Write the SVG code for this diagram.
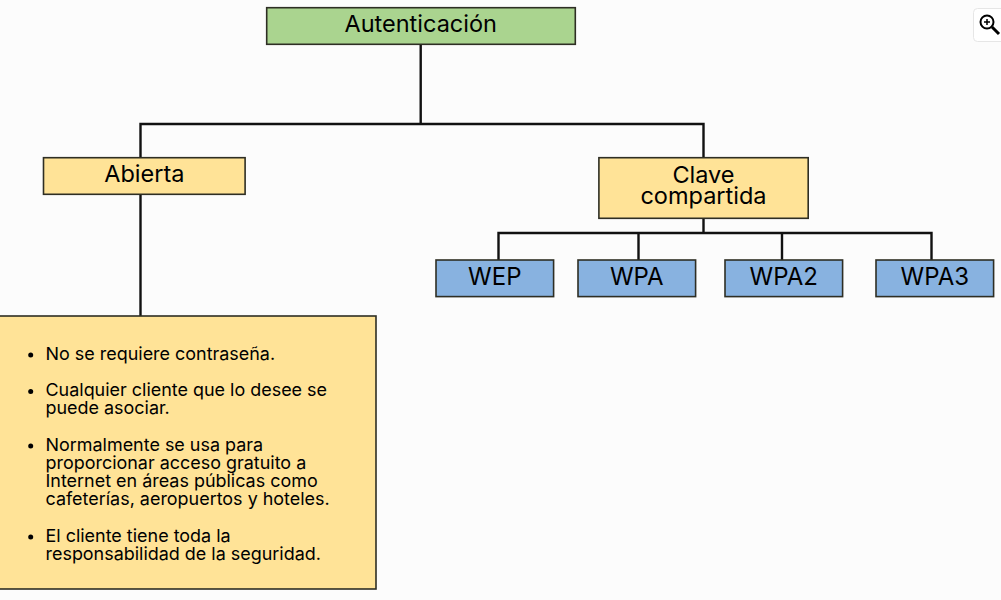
<svg xmlns="http://www.w3.org/2000/svg" width="1001" height="600" viewBox="0 0 1001 600">
<style>
text{font-family:Inter,"Noto Sans","Liberation Sans",sans-serif;fill:#000}
.t{font-size:23.500px;text-anchor:middle}
.m{font-size:24px;text-anchor:middle}
.l{font-size:17.950px}
.n{stroke:#2e2e24;stroke-width:1.600}
.g{fill:#aad48f}.y{fill:#ffe397}.b{fill:#88b2e0}
#connectors path{fill:none;stroke:#111;stroke-width:2.400}
</style>
<rect width="1001" height="600" fill="#fcfcfc"/>
<g id="connectors">
<path d="M420.700 44V124M140.500 157.700V124H703.500V157.700"/>
<path d="M140.500 194V316"/>
<path d="M703.500 218V233M498.500 260V233H931.500V260M638.500 233V260M782 233V260"/>
</g>
<g id="autenticacion"><rect class="n g" x="266.700" y="7.700" width="308.600" height="36.600"/><text class="t" x="420.700" y="32">Autenticación</text></g>
<g id="abierta"><rect class="n y" x="43.500" y="157.700" width="201.600" height="36.600"/><text class="t" x="144.300" y="182">Abierta</text></g>
<g id="clave"><rect class="n y" x="598.900" y="157.700" width="209.300" height="60.600"/><text class="t" x="703.500" y="183">Clave</text><text class="t" x="703.500" y="204">compartida</text></g>
<g id="wep"><rect class="n b" x="436" y="260" width="117.600" height="36.600"/><text class="m" x="494.800" y="285">WEP</text></g>
<g id="wpa"><rect class="n b" x="578" y="260" width="117.600" height="36.600"/><text class="m" x="636.800" y="285">WPA</text></g>
<g id="wpa2"><rect class="n b" x="725" y="260" width="117.600" height="36.600"/><text class="m" x="783.800" y="285">WPA2</text></g>
<g id="wpa3"><rect class="n b" x="876" y="260" width="117.600" height="36.600"/><text class="m" x="934.800" y="285">WPA3</text></g>
<g id="detalle">
<rect class="n y" x="-4" y="316" width="380" height="273"/>
<g fill="#000"><circle cx="30.700" cy="355" r="2.500"/><circle cx="30.700" cy="391.500" r="2.500"/><circle cx="30.700" cy="446" r="2.500"/><circle cx="30.700" cy="537" r="2.500"/></g>
<text class="l" x="45.500" y="360">No se requiere contraseña.</text>
<text class="l" x="45.500" y="396">Cualquier cliente que lo desee se</text>
<text class="l" x="45.500" y="414">puede asociar.</text>
<text class="l" x="45.500" y="451">Normalmente se usa para</text>
<text class="l" x="45.500" y="469">proporcionar acceso gratuito a</text>
<text class="l" x="45.500" y="487">Internet en áreas públicas como</text>
<text class="l" x="45.500" y="505">cafeterías, aeropuertos y hoteles.</text>
<text class="l" x="45.500" y="542">El cliente tiene toda la</text>
<text class="l" x="45.500" y="560">responsabilidad de la seguridad.</text>
</g>
<g id="zoom-icon">
<rect x="973.500" y="8.500" width="40" height="33" rx="4" fill="#fff" stroke="#e6e6e6"/>
<circle cx="987" cy="22" r="6.500" fill="none" stroke="#000" stroke-width="2"/>
<path d="M984 22H990M987 19V25" stroke="#000" stroke-width="1.500" fill="none"/>
<path d="M992 27L999 34" stroke="#000" stroke-width="3" fill="none"/>
</g>
</svg>
